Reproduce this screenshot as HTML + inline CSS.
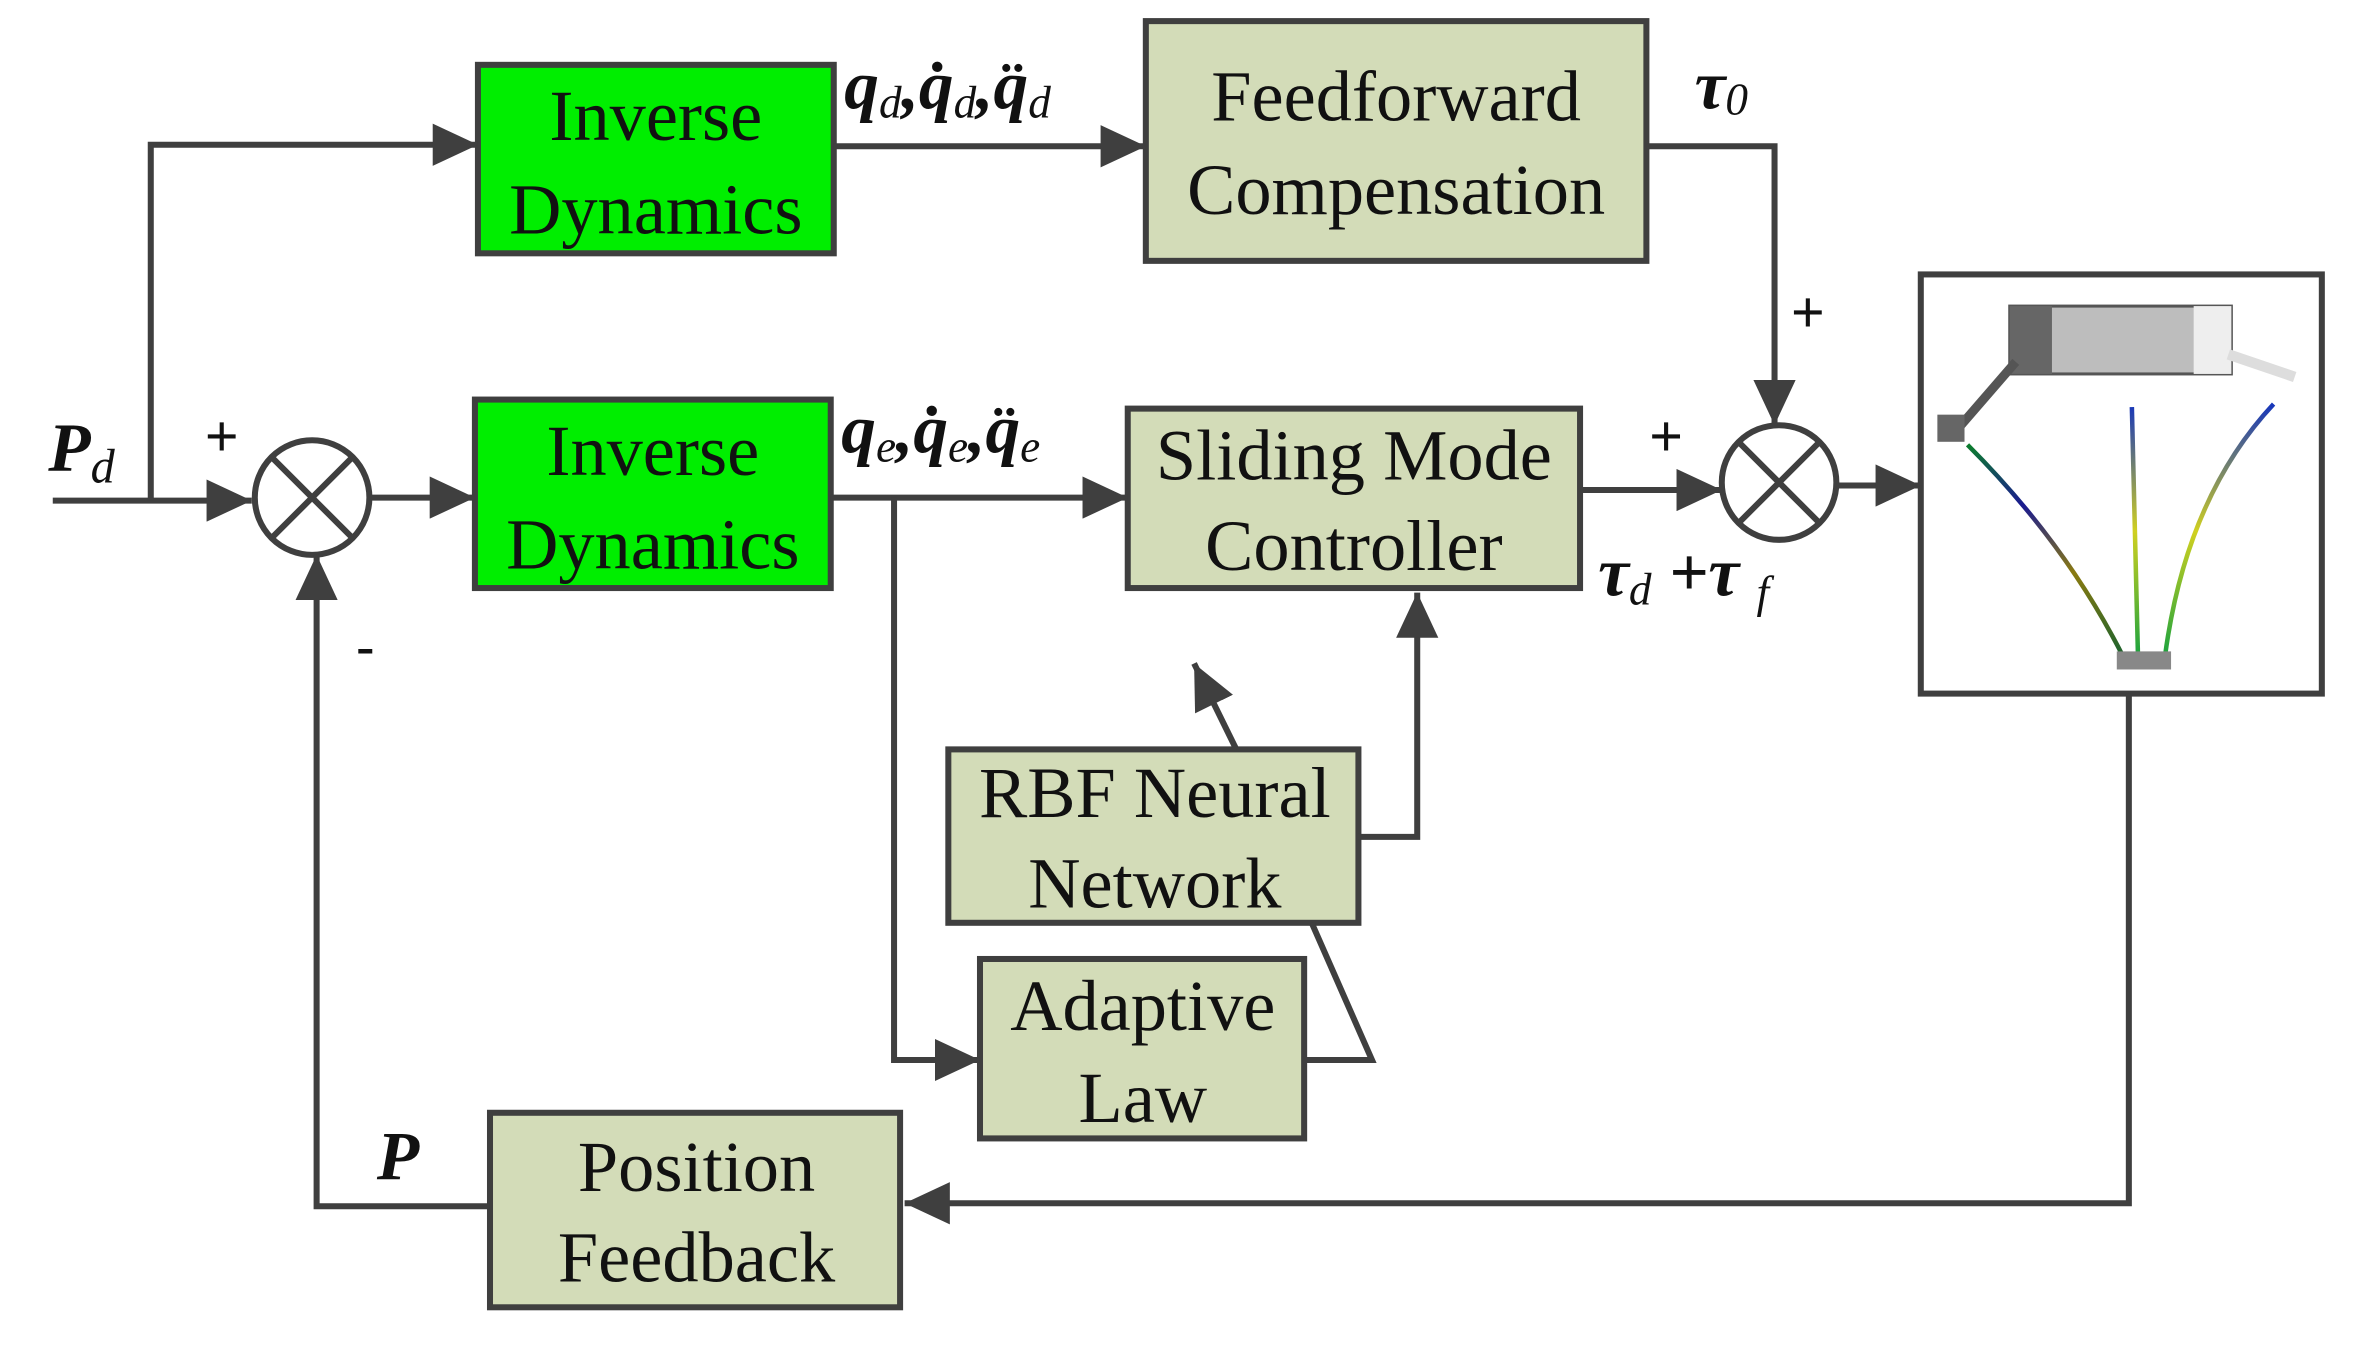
<!DOCTYPE html>
<html><head><style>html,body{margin:0;padding:0;background:#fff}svg{display:block}</style></head><body>
<svg width="2355" height="1348" viewBox="0 0 1562 894" preserveAspectRatio="none" xmlns="http://www.w3.org/2000/svg">
<defs>
<marker id="a" viewBox="0 0 30 28" refX="30" refY="14" markerWidth="30" markerHeight="28" markerUnits="userSpaceOnUse" orient="auto"><path d="M0,0 L30,14 L0,28 z" fill="#3f3f3f"/></marker>
<linearGradient id="g1" gradientUnits="userSpaceOnUse" x1="0" y1="290" x2="0" y2="440"><stop offset="0" stop-color="#0a8a20"/><stop offset="0.3" stop-color="#1a1a90"/><stop offset="0.6" stop-color="#8a7a10"/><stop offset="1" stop-color="#106030"/></linearGradient>
<linearGradient id="g2" gradientUnits="userSpaceOnUse" x1="0" y1="265" x2="0" y2="440"><stop offset="0" stop-color="#1030c0"/><stop offset="0.5" stop-color="#d0d020"/><stop offset="1" stop-color="#10a040"/></linearGradient>
</defs>
<g fill="none" stroke="#3f3f3f" stroke-width="4">
<rect x="317" y="43" width="236" height="125" fill="#00ee00"/>
<rect x="760" y="14" width="332" height="159" fill="#d3dcb8"/>
<rect x="315" y="265" width="236" height="125" fill="#00ee00"/>
<rect x="748" y="271" width="300" height="119" fill="#d3dcb8"/>
<rect x="629" y="497" width="272" height="115" fill="#d3dcb8"/>
<rect x="650" y="636" width="215" height="119" fill="#d3dcb8"/>
<rect x="325" y="738" width="272" height="129" fill="#d3dcb8"/>
<rect x="1274" y="182" width="266" height="278" fill="#fff"/>
<circle cx="207" cy="330" r="38" fill="#fff"/>
<path d="M180,303 L234,357 M234,303 L180,357"/>
<circle cx="1180" cy="320" r="38" fill="#fff"/>
<path d="M1153,293 L1207,347 M1207,293 L1153,347"/>
<path d="M35,332 H167" marker-end="url(#a)"/>
<path d="M100,332 V96 H317" marker-end="url(#a)"/>
<path d="M245,330 H315" marker-end="url(#a)"/>
<path d="M553,97 H760" marker-end="url(#a)"/>
<path d="M1092,97 H1177 V282" marker-end="url(#a)"/>
<path d="M551,330 H748" marker-end="url(#a)"/>
<path d="M593,330 V703 H650" marker-end="url(#a)"/>
<path d="M1048,325 H1142" marker-end="url(#a)"/>
<path d="M1218,322 H1274" marker-end="url(#a)"/>
<path d="M1412,460 V798 H600" marker-end="url(#a)"/>
<path d="M325,800 H210 V368" marker-end="url(#a)"/>
<path d="M901,555 H940 V393" marker-end="url(#a)"/>
<path d="M865,703 H910 L870,612"/>
<path d="M820,497 L792,440" marker-end="url(#a)"/>
</g>
<g>
<rect x="1333" y="203" width="147" height="45" fill="#bdbdbd" stroke="#555" stroke-width="2"/>
<rect x="1333" y="203" width="28" height="45" fill="#666"/>
<rect x="1455" y="203" width="25" height="45" fill="#eee"/>
<path d="M1337,240 L1298,285" stroke="#555" stroke-width="6"/>
<path d="M1478,235 L1522,250" stroke="#ddd" stroke-width="7"/>
<rect x="1285" y="275" width="18" height="18" fill="#666"/>
<path d="M1305,295 Q1370,360 1408,435" stroke="url(#g1)" stroke-width="3" fill="none"/>
<path d="M1414,270 L1418,433" stroke="url(#g2)" stroke-width="3" fill="none"/>
<path d="M1508,268 Q1450,330 1436,435" stroke="url(#g2)" stroke-width="3" fill="none"/>
<rect x="1404" y="432" width="36" height="12" fill="#888"/>
</g>
<g font-family="Liberation Serif, serif" font-size="48" fill="#111" text-anchor="middle">
<text x="435" y="93">Inverse</text><text x="435" y="155">Dynamics</text>
<text x="926" y="80">Feedforward</text><text x="926" y="142">Compensation</text>
<text x="433" y="315">Inverse</text><text x="433" y="377">Dynamics</text>
<text x="898" y="318">Sliding Mode</text><text x="898" y="378">Controller</text>
<text x="766" y="542">RBF Neural</text><text x="766" y="602">Network</text>
<text x="758" y="683">Adaptive</text><text x="758" y="744">Law</text>
<text x="462" y="790">Position</text><text x="462" y="850">Feedback</text>
</g>
<g font-family="Liberation Serif, serif" font-size="46" fill="#111" font-weight="bold" font-style="italic">
<text x="560" y="72">q<tspan font-size="30" font-weight="normal" dy="6">d</tspan><tspan dy="-6">,q̇</tspan><tspan font-size="30" font-weight="normal" dy="6">d</tspan><tspan dy="-6">,q̈</tspan><tspan font-size="30" font-weight="normal" dy="6">d</tspan></text>
<text x="1124" y="72">τ<tspan font-size="30" font-weight="normal" dy="4">0</tspan></text>
<text x="558" y="300">q<tspan font-size="30" font-weight="normal" dy="6">e</tspan><tspan dy="-6">,q̇</tspan><tspan font-size="30" font-weight="normal" dy="6">e</tspan><tspan dy="-6">,q̈</tspan><tspan font-size="30" font-weight="normal" dy="6">e</tspan></text>
<text x="1060" y="395">τ<tspan font-size="30" font-weight="normal" dy="6">d</tspan><tspan dy="-6"> +τ </tspan><tspan font-size="30" font-weight="normal" dy="8">f</tspan></text>
<text x="32" y="312">P<tspan font-size="32" font-weight="normal" dy="8">d</tspan></text>
<text x="250" y="782">P</text>
</g>
<g font-family="Liberation Sans, sans-serif" font-size="38" fill="#111">
<text x="136" y="302">+</text><text x="236" y="442">-</text>
<text x="1188" y="220">+</text><text x="1094" y="302">+</text>
</g>
</svg>
</body></html>
